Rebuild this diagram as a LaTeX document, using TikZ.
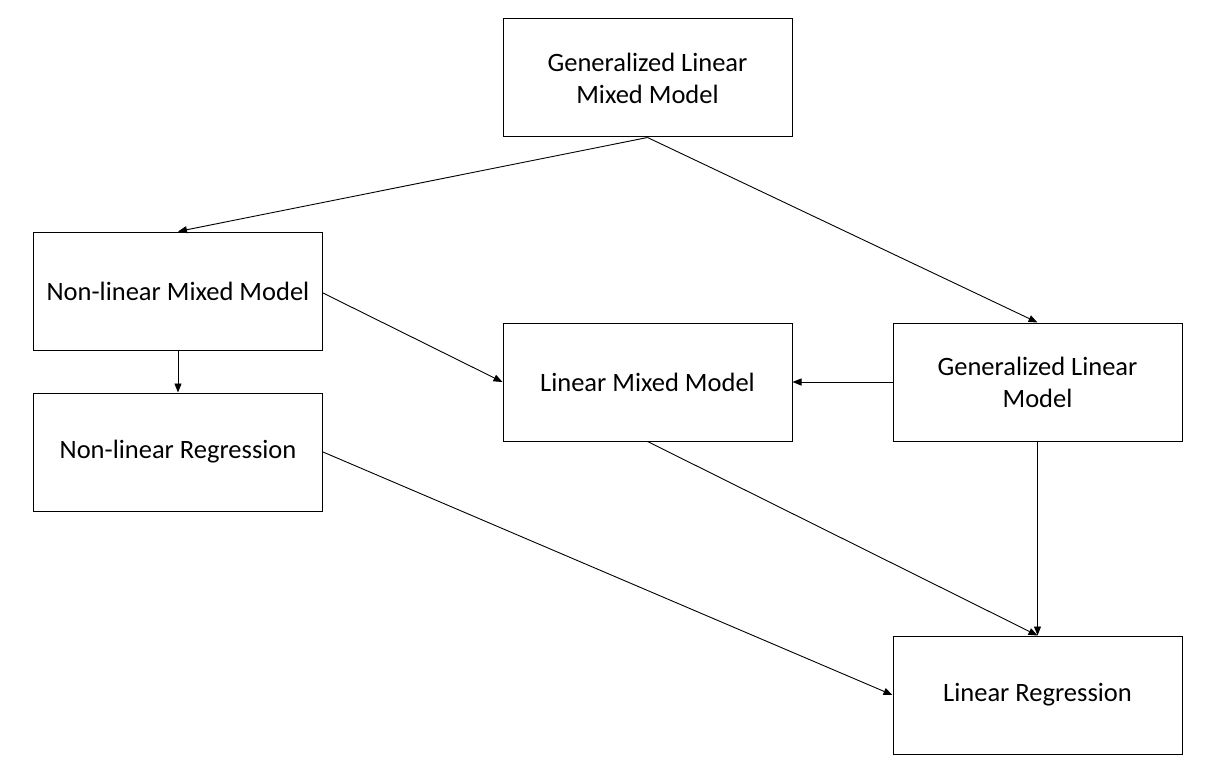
\documentclass[tikz,border=0pt]{standalone}
\usepackage{fontspec}
\setmainfont{Carlito}
\usetikzlibrary{arrows.meta}
\begin{document}
\begin{tikzpicture}[x=1pt,y=-1pt,
  box/.style={draw=black, line width=1pt, minimum width=289pt, minimum height=118pt, inner sep=0pt,
    align=center, font=\fontsize{26.5}{32}\selectfont, text=black},
  conn/.style={line width=0.9pt, -{Triangle[length=9pt,width=7pt]}}]
\useasboundingbox (0,0) rectangle (1210,773);
\node[box] (glmm) at (647.5,78) {Generalized Linear\\Mixed Model};
\node[box] (nlmm) at (178,291) {Non-linear Mixed Model};
\node[box] (nlr) at (178,452) {Non-linear Regression};
\node[box] (lmm) at (647.5,382) {Linear Mixed Model};
\node[box] (glm) at (1037.5,382) {Generalized Linear\\Model};
\node[box] (lr) at (1037.5,695) {Linear Regression};
\draw[conn] (glmm.south) -- (nlmm.north);
\draw[conn] (glmm.south) -- (glm.north);
\draw[conn] (nlmm.east) ++(0,2) coordinate (a1) (a1) -- (lmm.west);
\draw[conn] (nlmm.south) -- (nlr.north);
\draw[conn] (glm.west) -- (lmm.east);
\draw[conn] (lmm.south) -- (lr.north);
\draw[conn] (glm.south) -- (lr.north);
\draw[conn] (nlr.east) -- (lr.west);
\end{tikzpicture}
\end{document}
